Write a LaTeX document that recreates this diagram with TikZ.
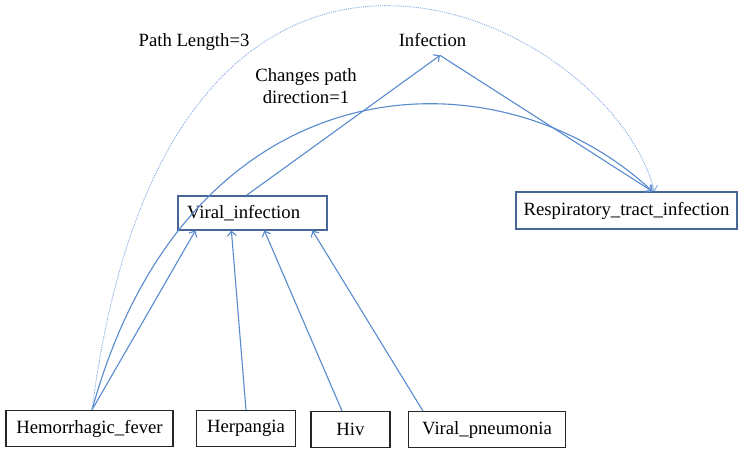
\documentclass[tikz,border=0pt]{standalone}
\usepackage{fontspec}
\setmainfont{Liberation Serif}
\usetikzlibrary{arrows.meta}
\definecolor{linkblue}{RGB}{88,138,206}
\definecolor{dotblue}{RGB}{130,170,225}
\definecolor{boxblue}{RGB}{70,102,150}
\begin{document}
\begin{tikzpicture}[x=1pt,y=-1pt,
every node/.style={font=\fontsize{18.7}{22}\selectfont},
leaf/.style={draw=black!85,line width=1.2pt,minimum height=36pt,inner sep=0pt},
concept/.style={draw=boxblue,line width=1.2pt,inner sep=0pt},
isa/.style={linkblue,line width=1.1pt,-{Straight Barb[length=4.5pt,width=9pt]}},
route/.style={dotblue,line width=0.9pt,densely dotted,-{Straight Barb[length=4.5pt,width=9pt]}}]
\useasboundingbox (0,0) rectangle (738,448);
\node[leaf,minimum width=167pt] (hemo) at ( 89.5 , 428.5 ) {Hemorrhagic\_fever};
\node[leaf,minimum width=99pt] (herp) at ( 246 , 428.5 ) {Herpangia};
\node[leaf,minimum width=79pt] (hiv) at ( 350.5 , 429.5 ) {Hiv};
\node[leaf,minimum width=157pt] (vpn) at ( 487 , 429.5 ) {Viral\_pneumonia};
\node[concept,minimum height=34pt,text width=131pt,align=left,inner xsep=9pt] (vir) at ( 252.5 , 213 ) {Viral\_infection};
\node[concept,minimum width=221pt,minimum height=37pt] (resp) at ( 626.5 , 210.5 ) {Respiratory\_tract\_infection};
\node[inner ysep=8pt] (infection) at ( 432.5 , 40.5 ) {Infection};
\node (pathlen) at ( 194 , 42.5 ) {Path Length=3};
\node[align=center] (turns) at ( 306 , 86 ) {Changes path\\direction=1};
\draw[isa] ([xshift=2.5pt]hemo.north) -- ([xshift=18pt]vir.south west);
\draw[isa] (herp.north) -- ([xshift=54pt]vir.south west);
\draw[isa] ([xshift=-8.5pt]hiv.north) -- ([xshift=87pt]vir.south west);
\draw[isa] ([xshift=15pt]vpn.north west) -- ([xshift=135pt]vir.south west);
\draw[isa] ([xshift=69pt]vir.north west) -- ([xshift=7.5pt]infection.south);
\draw[isa] ([xshift=7.5pt]infection.south) -- ([xshift=137pt]resp.north west);
\draw[isa] ([xshift=2.5pt]hemo.north) .. controls ( 190 , 55 ) and ( 500 , 48 ) .. ([xshift=137pt]resp.north west);
\draw[route] ([xshift=2.5pt]hemo.north) .. controls ( 170 , -200 ) and ( 610 , 15 ) .. ([xshift=139pt]resp.north west);
\end{tikzpicture}
\end{document}
